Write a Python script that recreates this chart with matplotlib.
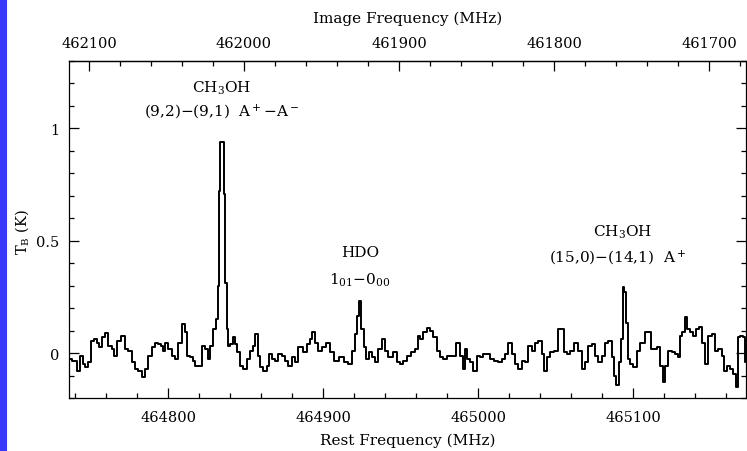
import matplotlib
matplotlib.use('Agg')
import matplotlib.pyplot as plt
from matplotlib.ticker import MultipleLocator
from matplotlib.patches import Rectangle

# ---- data ----
rest_freq = [
    464735.5, 464740.0, 464742.4, 464744.3, 464745.4, 464747.5, 464749.7, 464751.3,
    464752.9, 464755.0, 464756.1, 464758.3, 464760.4, 464762.6, 464764.7, 464765.8,
    464767.9, 464770.8, 464773.4, 464775.5, 464777.6, 464779.8, 464781.9, 464784.1,
    464786.3, 464788.4, 464790.5, 464792.7, 464794.8, 464795.9, 464797.0, 464799.2,
    464801.3, 464803.4, 464805.6, 464807.7, 464809.9, 464811.6, 464813.1, 464815.3,
    464816.3, 464818.5, 464820.6, 464822.8, 464825.0, 464826.0, 464828.2, 464830.3,
    464831.4, 464832.5, 464833.3, 464834.3, 464835.6, 464836.5, 464837.3, 464838.2,
    464839.2, 464841.1, 464842.1, 464843.9, 464845.4, 464847.5, 464849.7, 464851.8,
    464854.0, 464855.1, 464857.2, 464858.9, 464860.4, 464862.6, 464864.7, 464865.8,
    464867.9, 464870.1, 464872.3, 464874.4, 464876.6, 464878.7, 464880.8, 464883.0,
    464885.2, 464888.4, 464890.5, 464892.7, 464893.7, 464895.9, 464898.1, 464900.2,
    464903.4, 464905.6, 464908.8, 464912.1, 464915.3, 464917.4, 464919.6, 464921.3,
    464922.8, 464923.9, 464925.6, 464927.1, 464928.6, 464930.8, 464932.9, 464934.6,
    464936.8, 464938.9, 464941.1, 464943.2, 464946.5, 464948.6, 464950.8, 464952.9,
    464955.0, 464958.3, 464960.5, 464961.5, 464963.7, 464965.8, 464967.9, 464970.1,
    464972.3, 464974.4, 464976.6, 464978.7, 464980.8, 464984.1, 464987.3, 464989.5,
    464990.5, 464992.3, 464993.8, 464995.9, 464998.1, 465000.2, 465002.4, 465004.5,
    465006.6, 465008.8, 465012.1, 465014.2, 465016.3, 465018.5, 465020.6, 465022.8,
    465025.0, 465027.1, 465029.2, 465031.4, 465033.5, 465035.7, 465037.9, 465040.0,
    465042.2, 465043.2, 465045.4, 465047.5, 465050.8, 465052.9, 465054.4, 465056.1,
    465058.3, 465060.4, 465063.7, 465065.8, 465068.0, 465070.1, 465072.3, 465074.4,
    465076.6, 465078.7, 465080.8, 465083.0, 465085.2, 465087.3, 465088.4, 465089.9,
    465091.6, 465092.7, 465093.8, 465094.8, 465095.9, 465097.4, 465099.2, 465101.3,
    465103.4, 465105.0, 465106.7, 465108.8, 465111.0, 465112.1, 465114.2, 465116.3,
    465118.5, 465120.0, 465121.7, 465123.9, 465126.0, 465128.2, 465129.9, 465130.8,
    465132.5, 465134.2, 465135.7, 465137.9, 465140.0, 465141.5, 465143.7, 465145.4,
    465147.5, 465149.7, 465151.8, 465153.4, 465156.1, 465158.3, 465159.4, 465161.5,
    465163.7, 465165.8, 465166.9, 465168.4, 465170.1, 465171.6, 465173.5,
]
tb = [
    -0.027, -0.034, -0.081, -0.012, -0.049, -0.064, -0.041, 0.055,
    0.062, 0.047, 0.025, 0.070, 0.089, 0.033, 0.018, -0.012,
    0.055, 0.074, 0.018, 0.010, -0.041, -0.071, -0.079, -0.105,
    -0.071, -0.012, 0.025, 0.047, 0.040, 0.033, 0.010, 0.047,
    0.018, -0.012, -0.027, 0.047, 0.129, 0.092, -0.012, -0.019,
    -0.034, -0.056, -0.056, 0.033, 0.018, -0.027, 0.033, 0.107,
    0.151, 0.30, 0.72, 0.94, 0.94, 0.71, 0.31, 0.107,
    0.033, 0.040, 0.070, 0.040, 0.003, -0.056, -0.071, -0.027,
    0.010, 0.033, 0.084, -0.012, -0.064, -0.079, -0.056, -0.004,
    -0.027, -0.034, -0.004, -0.012, -0.034, -0.056, -0.019, -0.041,
    0.025, 0.003, 0.040, 0.062, 0.092, 0.047, 0.010, 0.025,
    0.047, 0.003, -0.034, -0.019, -0.041, -0.049, 0.010, 0.084,
    0.166, 0.233, 0.107, 0.025, -0.027, 0.003, -0.019, -0.041,
    0.018, 0.062, 0.010, -0.019, 0.003, -0.041, -0.049, -0.034,
    -0.012, 0.003, 0.018, 0.077, 0.062, 0.092, 0.110, 0.099,
    0.070, 0.010, -0.019, -0.027, -0.012, -0.012, 0.047, -0.012,
    -0.071, 0.018, -0.027, -0.041, -0.079, -0.012, -0.019, -0.004,
    -0.004, -0.027, -0.034, -0.041, -0.027, -0.004, 0.047, -0.004,
    -0.049, -0.071, -0.034, -0.041, 0.033, 0.010, 0.047, 0.055,
    -0.004, -0.079, -0.019, 0.003, 0.010, 0.107, 0.107, 0.003,
    -0.004, 0.010, 0.047, 0.010, -0.071, -0.041, 0.033, 0.040,
    -0.012, -0.041, -0.012, 0.047, 0.055, -0.019, -0.101, -0.142,
    -0.041, 0.062, 0.292, 0.270, 0.136, -0.027, -0.049, -0.064,
    0.010, 0.047, 0.047, 0.092, 0.092, 0.018, 0.018, 0.025,
    -0.056, -0.130, -0.056, 0.010, 0.003, -0.004, -0.019, 0.077,
    0.092, 0.159, 0.107, 0.092, 0.077, 0.107, 0.114, 0.047,
    -0.049, 0.077, 0.084, 0.010, 0.018, -0.012, -0.079, -0.056,
    -0.071, -0.093, -0.153, 0.070, 0.074, 0.070, -0.041,
]
rest_major_ticks = [464800, 464900, 465000, 465100]
image_major_ticks = [462100, 462000, 461900, 461800, 461700]
y_major_ticks = [0, 0.5, 1]
y_tick_labels = ['0', '0.5', '1']
FREQ_SUM = 926849.0  # image = FREQ_SUM - rest

line_labels = [
    (464834.8, 1.182, r'CH$_3$OH'),
    (464834.8, 1.076, r'(9,2)$-$(9,1)  A$^+$$-$A$^-$'),
    (464923.9, 0.449, 'HDO'),
    (464923.9, 0.329, r'1$_{01}$$-$0$_{00}$'),
    (465093.5, 0.542, r'CH$_3$OH'),
    (465090.3, 0.427, r'(15,0)$-$(14,1)  A$^+$'),
]

plt.rcParams['font.family'] = ['DejaVu Serif']
plt.rcParams['mathtext.fontset'] = 'dejavuserif'

fig = plt.figure(figsize=(7.47, 4.52), dpi=100)
fig.patches.append(Rectangle((0, 0), 7 / 747, 1, transform=fig.transFigure,
                             facecolor='#3838F8', edgecolor='none'))

ax = fig.add_axes([69 / 747, 53 / 452, 677 / 747, 337 / 452])
ax.step(rest_freq, tb, where='mid', color='black', lw=1.4)
ax.set_xlim(464736.1, 465172.9)
ax.set_ylim(-0.2, 1.3)

for s in ax.spines.values():
    s.set_linewidth(0.9)

ax.set_xticks(rest_major_ticks)
ax.xaxis.set_minor_locator(MultipleLocator(20))
ax.set_yticks(y_major_ticks)
ax.set_yticklabels(y_tick_labels)
ax.yaxis.set_minor_locator(MultipleLocator(0.1))
ax.tick_params(which='both', direction='in', top=False, right=True, labelsize=10.5)
ax.tick_params(axis='x', which='major', length=7, width=0.9, pad=9)
ax.tick_params(axis='x', which='minor', length=3.5, width=0.9)
ax.tick_params(axis='y', which='major', length=7.5, width=0.9, pad=7)
ax.tick_params(axis='y', which='minor', length=3.5, width=0.9)
ax.set_xlabel('Rest Frequency (MHz)', fontsize=11, labelpad=6)

f = lambda x: FREQ_SUM - x
secax = ax.secondary_xaxis('top', functions=(f, f))
secax.set_xticks(image_major_ticks)
secax.xaxis.set_minor_locator(MultipleLocator(20))
secax.tick_params(which='both', direction='in', labelsize=10.5)
secax.tick_params(which='major', length=7, width=0.9, pad=8)
secax.tick_params(which='minor', length=3.5, width=0.9)
secax.spines['top'].set_linewidth(0.9)
secax.set_xlabel('Image Frequency (MHz)', fontsize=11, labelpad=10)

fig.text(22 / 747, 1 - 232 / 452, r'T$_\mathregular{B}$ (K)', rotation=90,
         ha='center', va='center', fontsize=10.5)

for x, y, s in line_labels:
    ax.text(x, y, s, ha='center', va='center', fontsize=11)

fig.savefig('out.png', dpi=100)
